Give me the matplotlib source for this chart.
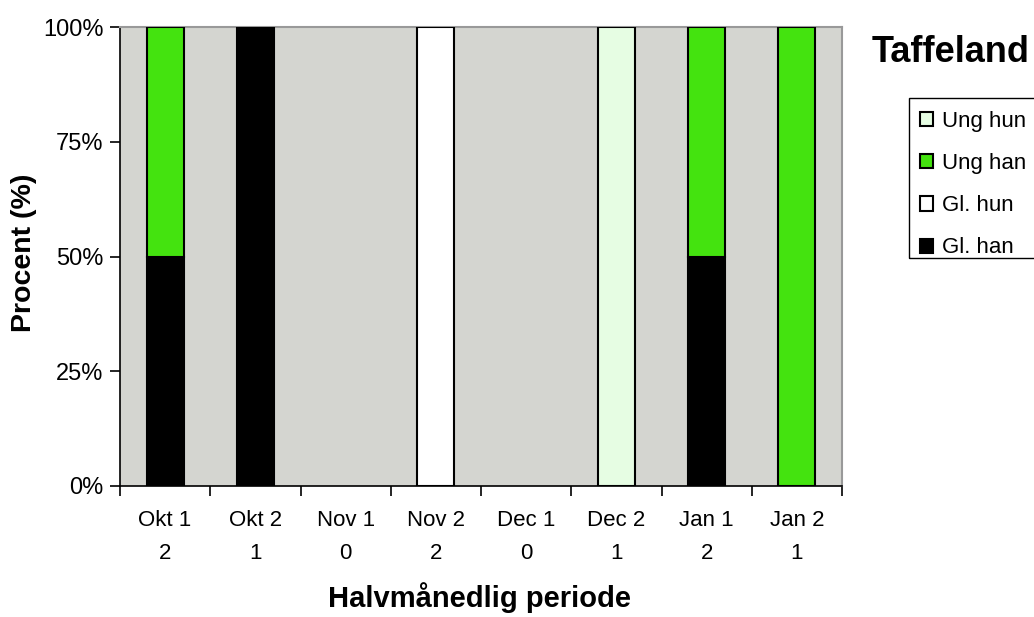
import matplotlib
matplotlib.use("Agg")
import matplotlib.pyplot as plt
from matplotlib.patches import Rectangle
import numpy as np

plt.rcParams['font.family'] = ['Liberation Sans', 'DejaVu Sans']

periods = ["Okt 1", "Okt 2", "Nov 1", "Nov 2", "Dec 1", "Dec 2", "Jan 1", "Jan 2"]
counts = [2, 1, 0, 2, 0, 1, 2, 1]
gl_han = [50, 100, 0, 0, 0, 0, 50, 0]
gl_hun = [0, 0, 0, 100, 0, 0, 0, 0]
ung_han = [50, 0, 0, 0, 0, 0, 50, 100]
ung_hun = [0, 0, 0, 0, 0, 100, 0, 0]
series = [("Gl. han", gl_han, "#000000"),
          ("Gl. hun", gl_hun, "#ffffff"),
          ("Ung han", ung_han, "#44e30f"),
          ("Ung hun", ung_hun, "#e6fde3")]
yticks = [0, 25, 50, 75, 100]
title = "Taffeland"
xlabel = "Halvmånedlig periode"
ylabel = "Procent (%)"

fig = plt.figure(figsize=(10.34, 6.17), dpi=100)
ax = fig.add_axes([120/1034, 1-486/617, 722/1034, 459/617])
ax.set_facecolor("#d4d5d0")

x = np.arange(len(periods))
bottom = np.zeros(len(periods))
handles = []
for name, vals, col in series:
    v = np.array(vals, dtype=float)
    mask = v > 0
    b = ax.bar(x[mask], v[mask], bottom=bottom[mask], width=0.41, color=col,
               edgecolor="black", linewidth=1.5, label=name, zorder=3)
    handles.append(b)
    bottom += v

ax.set_xlim(-0.5, len(periods) - 0.5)
ax.set_ylim(0, 100)
ax.set_yticks(yticks)
ax.set_yticklabels([f"{t}%" for t in yticks], fontsize=17)
ax.set_xticks(np.arange(len(periods) + 1) - 0.5)
ax.set_xticklabels([])
ax.set_xticks(x, minor=True)
ax.set_xticklabels([f"{p}\n{c}" for p, c in zip(periods, counts)], minor=True,
                   fontsize=16, linespacing=1.75)
ax.tick_params(axis='x', which='minor', length=0, pad=17)
ax.tick_params(axis='x', which='major', length=7, width=1.2, color="black")
ax.tick_params(axis='y', length=7, width=1.2, color="black", pad=5)

for s in ["top", "right"]:
    ax.spines[s].set_color("#999999")
    ax.spines[s].set_linewidth(1.5)
for s in ["left", "bottom"]:
    ax.spines[s].set_color("black")
    ax.spines[s].set_linewidth(1.2)

fig.text(479/1034, 1-598/617, xlabel, ha="center", va="center",
         fontsize=21, fontweight="bold")
fig.text(24/1034, 1-253/617, ylabel, ha="center", va="center",
         fontsize=20.5, fontweight="bold", rotation=90)
fig.text(872/1034, 1-52/617, title, ha="left", va="center",
         fontsize=26, fontweight="bold")

leg = fig.legend(handles=handles[::-1], labels=[s[0] for s in series][::-1],
                 loc="upper left", bbox_to_anchor=(909/1034, 1-100/617),
                 fontsize=16, frameon=False,
                 handlelength=0.6, handleheight=0.6, handletextpad=0.4,
                 labelspacing=0.95, borderpad=0.5, borderaxespad=0)
fig.patches.append(Rectangle((909/1034, 1-258/617), 140/1034, 160/617,
                             transform=fig.transFigure, fill=False,
                             edgecolor="black", linewidth=1.0))

fig.savefig("out.png", dpi=100)
